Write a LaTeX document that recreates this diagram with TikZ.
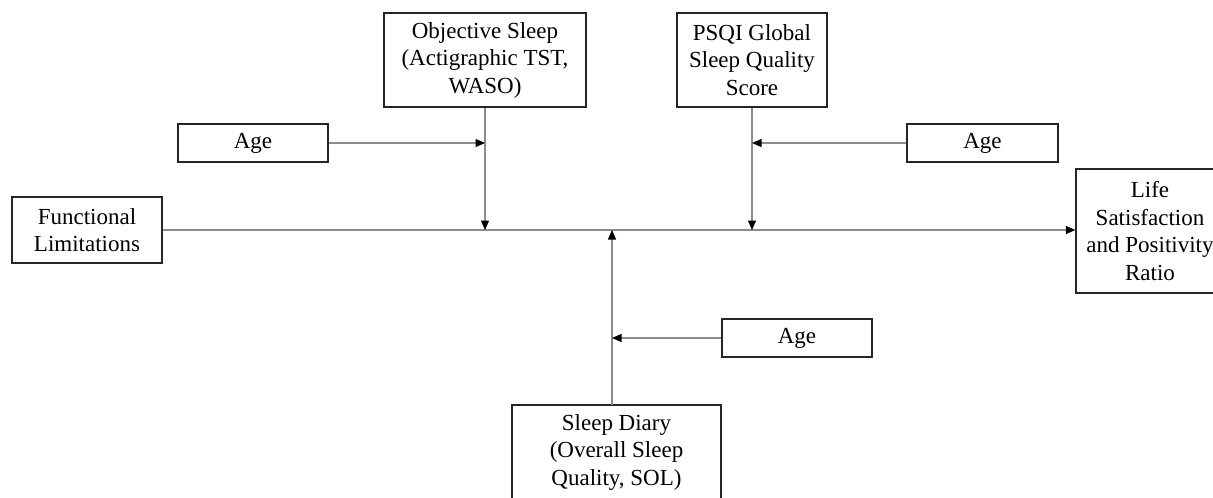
\documentclass[tikz,border=0pt]{standalone}
\usepackage{fontspec}
\setmainfont{Liberation Serif}
\usetikzlibrary{arrows.meta}
\begin{document}
\begin{tikzpicture}[x=1pt,y=-1pt,
  box/.style={draw=black!85, line width=1.2pt, inner sep=0pt, align=center,
    font=\fontsize{23pt}{27.5pt}\selectfont},
  link/.style={draw=black!45, line width=1.1pt},
  arr/.style={link, -{Triangle[length=9.5pt,width=8pt,color=black]}}]
\useasboundingbox (0,0) rectangle (1213,498);
\node[box, minimum width=202pt, minimum height=94pt] (obj) at (485,60) {Objective Sleep\\(Actigraphic TST,\\WASO)};
\node[box, minimum width=150pt, minimum height=94pt] (psqi) at (752,60) {PSQI Global\\Sleep Quality\\Score};
\node[box, minimum width=150pt, minimum height=38pt] (ageL) at (253,143) {Age};
\node[box, minimum width=151pt, minimum height=38pt] (ageR) at (982.5,143) {Age};
\node[box, minimum width=150pt, minimum height=38pt] (ageB) at (797,338) {Age};
\node[box, minimum width=150pt, minimum height=66pt] (func) at (87,230) {Functional\\Limitations};
\node[box, minimum width=148pt, minimum height=124pt] (life) at (1150,231) {Life\\Satisfaction\\and Positivity\\Ratio};
\node[box, minimum width=209pt, minimum height=94pt] (diary) at (616.5,452) {Sleep Diary\\(Overall Sleep\\Quality, SOL)};
\coordinate (dtop) at (612,405);
\coordinate (mo) at (485,230);
\coordinate (mp) at (752,230);
\coordinate (md) at (612,230);
\draw[arr] (func.east) -- (func.east -| life.west);
\draw[arr] (obj.south) -- (mo);
\draw[arr] (psqi.south) -- (mp);
\draw[arr] (dtop) -- (md);
\draw[arr] (ageL.east) -- (ageL.east -| obj.south);
\draw[arr] (ageR.west) -- (ageR.west -| psqi.south);
\draw[arr] (ageB.west) -- (ageB.west -| dtop);
\end{tikzpicture}
\end{document}
